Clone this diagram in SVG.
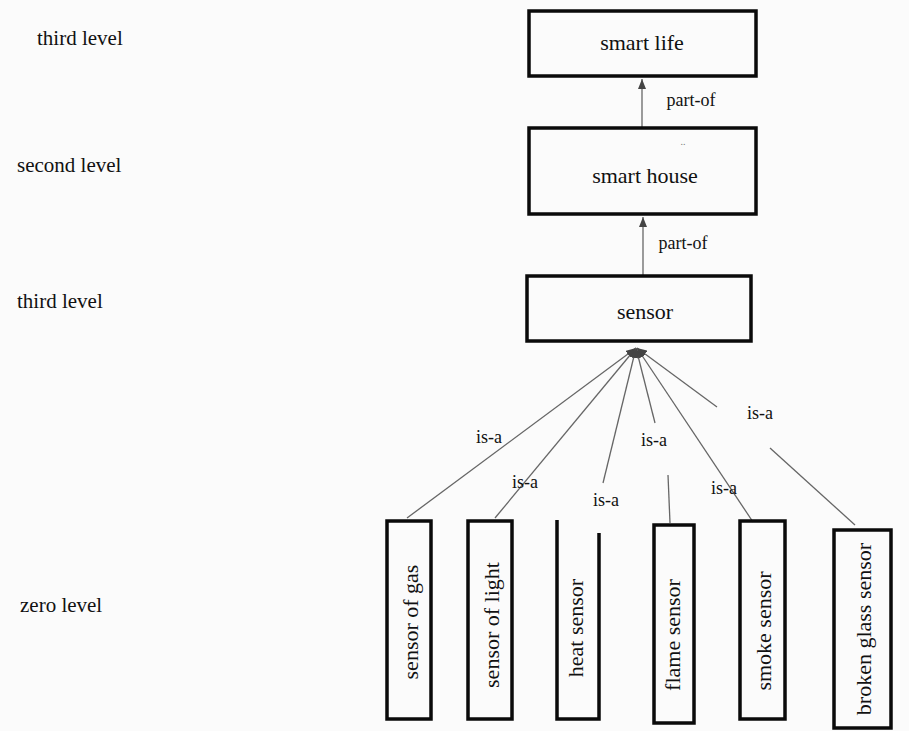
<svg xmlns="http://www.w3.org/2000/svg" width="909" height="731" viewBox="0 0 909 731">
<defs>
<style>
.box{fill:none;stroke:#0a0a0a;stroke-width:3.5}
.ln{stroke:#666;stroke-width:1.3;fill:none}
</style>
<marker id="ah" viewBox="0 0 10 8" refX="10" refY="4" markerWidth="10" markerHeight="8" markerUnits="userSpaceOnUse" orient="auto">
<path d="M0,0 L10,4 L0,8 z" fill="#444"/>
</marker>
</defs>
<rect width="909" height="731" fill="#fbfbfb"/>
<g id="levels" font-family="Liberation Serif" font-size="21" fill="#111">
<text x="37" y="45">third level</text>
<text x="17" y="172">second level</text>
<text x="17" y="308">third level</text>
<text x="20" y="612">zero level</text>
</g>
<g id="connectors">
<g class="ln" marker-end="url(#ah)">
<line x1="642" y1="127" x2="642" y2="79"/>
<line x1="643" y1="275" x2="643" y2="217"/>
<line x1="407" y1="518" x2="636" y2="348"/>
<line x1="495" y1="518" x2="636" y2="348"/>
<line x1="603" y1="483" x2="636" y2="348"/>
<line x1="655" y1="423" x2="636" y2="348"/>
<line x1="753" y1="522" x2="637" y2="348"/>
<line x1="717" y1="407" x2="637" y2="348"/>
</g>
<line class="ln" x1="668" y1="475" x2="670" y2="523"/>
<line class="ln" x1="770" y1="448" x2="855" y2="525"/>
<g font-family="Liberation Serif" font-size="18" fill="#111" text-anchor="middle">
<text x="691" y="106">part-of</text>
<text x="683" y="249">part-of</text>
<text x="489" y="443">is-a</text>
<text x="525" y="488">is-a</text>
<text x="606" y="506">is-a</text>
<text x="654" y="446">is-a</text>
<text x="724" y="494">is-a</text>
<text x="760" y="419">is-a</text>
</g>
</g>
<g font-family="Liberation Serif" font-size="22" fill="#111" text-anchor="middle">
<g id="smart-life">
<rect class="box" x="529" y="11" width="227" height="65"/>
<text x="642" y="50">smart life</text>
</g>
<g id="smart-house">
<rect class="box" x="529" y="128" width="227" height="86"/>
<text x="683" y="145" font-size="10" fill="#777">..</text>
<text x="645" y="183">smart house</text>
</g>
<g id="sensor">
<rect class="box" x="527" y="276" width="224" height="65"/>
<text x="645" y="319">sensor</text>
</g>
<g id="sensor-of-gas">
<rect class="box" x="387" y="521" width="44" height="198"/>
<text transform="translate(418,622) rotate(-90)">sensor of gas</text>
</g>
<g id="sensor-of-light">
<rect class="box" x="468" y="521" width="44" height="198"/>
<text transform="translate(499,625) rotate(-90)">sensor of light</text>
</g>
<g id="heat-sensor">
<path class="box" d="M557,520 V719 H599 V533"/>
<text transform="translate(583,628) rotate(-90)">heat sensor</text>
</g>
<g id="flame-sensor">
<rect class="box" x="654" y="525" width="40" height="198"/>
<text transform="translate(680,635) rotate(-90)">flame sensor</text>
</g>
<g id="smoke-sensor">
<rect class="box" x="740" y="521" width="45" height="198"/>
<text transform="translate(771,631) rotate(-90)">smoke sensor</text>
</g>
<g id="broken-glass-sensor">
<rect class="box" x="834" y="530" width="57" height="198"/>
<text transform="translate(871,629) rotate(-90)">broken glass sensor</text>
</g>
</g>
</svg>
